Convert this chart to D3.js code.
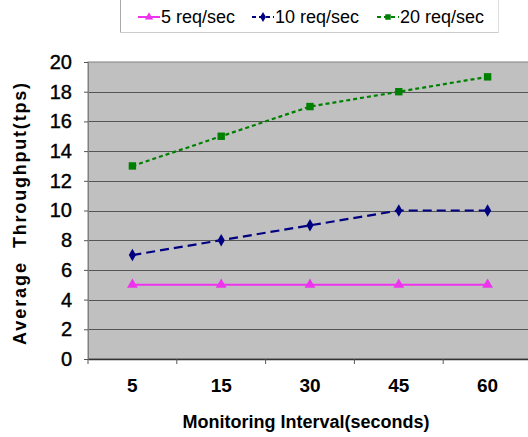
<!DOCTYPE html>
<html><head><meta charset="utf-8">
<script src="https://cdn.jsdelivr.net/npm/d3@7"></script>
<style>body{margin:0;background:#fff;}svg{display:block;font-family:Arial,"Liberation Sans",sans-serif;}</style>
</head><body><svg id="c" width="528" height="437"></svg>
<script>
const categories = ["5", "15", "30", "45", "60"];
const seriesNames = ["5 req/sec", "10 req/sec", "20 req/sec"];
const s5 = [5, 5, 5, 5, 5];
const s10 = [7, 8, 9, 10, 10];
const s20 = [13, 15, 17, 18, 19];
const yTicks = [0, 2, 4, 6, 8, 10, 12, 14, 16, 18, 20];

const series = [
  {name: seriesNames[0], values: s5, color: "#ee33ee", dash: null, marker: "triangle"},
  {name: seriesNames[1], values: s10, color: "#000080", dash: "9,5", marker: "diamond"},
  {name: seriesNames[2], values: s20, color: "#008000", dash: "4,3", marker: "square"}
];

const svg = d3.select("#c");
const L = 88, R = 532, T = 62, B = 359;
const x = d3.scaleBand().domain(categories).range([L, R]);
const y = d3.scaleLinear().domain([0, 20]).range([B, T]);

svg.append("rect").attr("x", L).attr("y", T).attr("width", R - L).attr("height", B - T)
  .attr("fill", "#c0c0c0").attr("stroke", "#808080").attr("stroke-width", 1);

// gridlines
svg.append("g").selectAll("line").data(yTicks.filter(d => d > 0 && d < 20)).join("line")
  .attr("x1", L).attr("x2", R).attr("y1", d => Math.round(y(d)) + 0.5).attr("y2", d => Math.round(y(d)) + 0.5)
  .attr("stroke", "#555").attr("stroke-width", 1);

// y axis
const yAxis = d3.axisLeft(y).tickValues(yTicks).tickSize(4).tickPadding(12).tickFormat(d3.format("d"));
const gy = svg.append("g").attr("transform", `translate(${L},0)`).call(yAxis);
gy.select(".domain").attr("stroke", "#808080");
gy.selectAll(".tick line").attr("stroke", "#555");
gy.selectAll("text").attr("font-size", 20).attr("fill", "#000").attr("stroke", "#000").attr("stroke-width", 0.4)
  .attr("font-family", "Arial, Liberation Sans, sans-serif");

// x axis
const xAxis = d3.axisBottom(x).tickSize(0).tickPadding(20);
const gx = svg.append("g").attr("transform", `translate(0,${B})`).call(xAxis);
gx.select(".domain").attr("stroke", "#333").attr("stroke-width", 1.5);
gx.selectAll("text").attr("font-size", 19).attr("fill", "#000").attr("font-weight", "bold").attr("font-family", "Arial, Liberation Sans, sans-serif");
// x tick marks at band boundaries
svg.append("g").selectAll("line").data(categories).join("line")
  .attr("x1", d => x(d)).attr("x2", d => x(d)).attr("y1", B).attr("y2", B + 5)
  .attr("stroke", "#555");

// axis titles
svg.append("text").attr("x", 306).attr("y", 428).attr("text-anchor", "middle")
  .attr("font-size", 18).attr("font-weight", "bold").text("Monitoring Interval(seconds)");
const yt = svg.append("g").attr("transform", "translate(26,0) rotate(-90)");
yt.append("text").attr("x", -345).attr("y", 0).attr("text-anchor", "start")
  .attr("font-size", 18).attr("font-weight", "bold").attr("textLength", 82).text("Average");
yt.append("text").attr("x", -83).attr("y", 0).attr("text-anchor", "end")
  .attr("font-size", 18).attr("font-weight", "bold").attr("textLength", 165).text("Throughput(tps)");

function markerPath(type, size) {
  const sym = type === "triangle" ? d3.symbolTriangle : type === "diamond" ? d3.symbolDiamond : d3.symbolSquare;
  return d3.symbol().type(sym).size(size)();
}
const mSize = {triangle: 50, diamond: 45, square: 55};

const line = d3.line().x((d, i) => x(categories[i]) + x.bandwidth() / 2).y(d => y(d));
series.forEach(s => {
  svg.append("path").datum(s.values).attr("d", line).attr("fill", "none")
    .attr("stroke", s.color).attr("stroke-width", s.marker === "triangle" ? 2 : 2.2)
    .attr("stroke-dasharray", s.dash);
  svg.append("g").selectAll("path").data(s.values).join("path")
    .attr("transform", (d, i) => `translate(${x(categories[i]) + x.bandwidth() / 2},${y(d)})`)
    .attr("d", markerPath(s.marker, mSize[s.marker])).attr("fill", s.color);
});

// legend
const lg = svg.append("g");
lg.append("line").attr("x1", 120.5).attr("x2", 120.5).attr("y1", 0).attr("y2", 33).attr("stroke", "#aaa");
lg.append("line").attr("x1", 120).attr("x2", 499).attr("y1", 32.5).attr("y2", 32.5).attr("stroke", "#ccc");
lg.append("line").attr("x1", 498.5).attr("x2", 498.5).attr("y1", 0).attr("y2", 33).attr("stroke", "#ddd");
const lx = [138, 252, 377];
series.forEach((s, i) => {
  const g = lg.append("g").attr("transform", `translate(${lx[i]},17)`);
  g.append("line").attr("x1", 0).attr("x2", 22).attr("y1", 0).attr("y2", 0)
    .attr("stroke", s.color).attr("stroke-width", 2).attr("stroke-dasharray", s.dash ? "4,3" : null);
  g.append("path").attr("transform", "translate(11,0)").attr("d", markerPath(s.marker, 30)).attr("fill", s.color);
  g.append("text").attr("x", 23).attr("y", 6).attr("font-size", 18).attr("fill", "#000").text(s.name);
});
</script></body></html>
